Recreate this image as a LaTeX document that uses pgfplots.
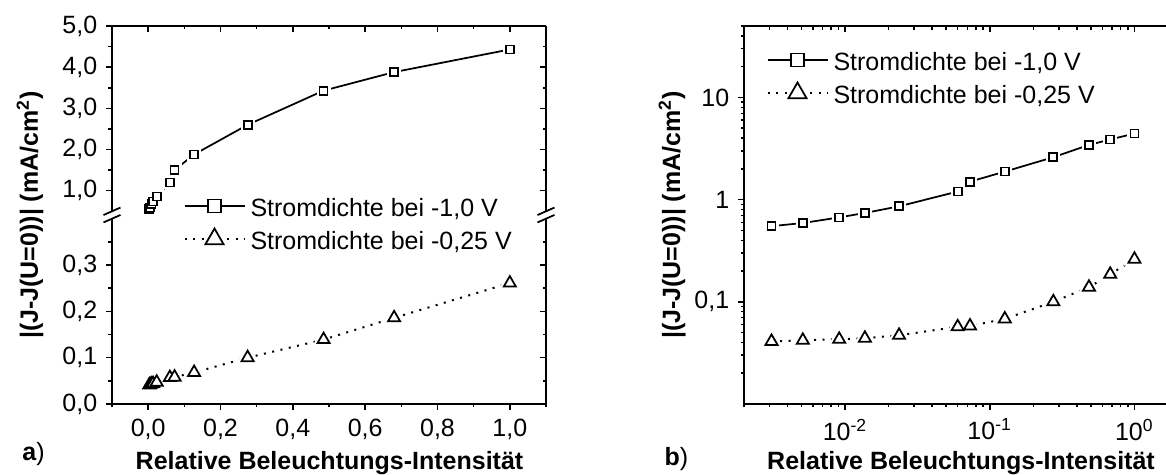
\documentclass[border=0pt]{standalone}
\usepackage{fontspec}
\setmainfont{Liberation Sans}
\usepackage{pgfplots}
\pgfplotsset{compat=1.18}

\pgfplotstableread{
x       sq     tri
0.0031  0.55   0.041
0.0051  0.59   0.042
0.0091  0.67   0.043
0.0137  0.74   0.044
0.0236  0.86   0.047
0.060   1.20   0.057
0.073   1.50   0.058
0.127   1.88   0.068
0.275   2.60   0.100
0.485   3.43   0.139
0.68    3.88   0.186
1.0     4.43   0.261
}\datatable

\pgfplotsset{
  base/.style={
    scale only axis, width=173.6pt, anchor=south west,
    axis line style={line width=0.8pt},
    every tick/.style={black, line width=0.6pt},
    major tick length=2.4pt, minor tick length=1.4pt,
    tick label style={font=\fontsize{10}{12}\selectfont},
    /pgf/number format/use comma,
    /pgf/number format/fixed,
    /pgf/number format/fixed zerofill,
    /pgf/number format/precision=1,
    /pgf/number format/assume math mode=true,
    clip mode=individual,
  },
  sqline/.style={black, line width=0.7pt, mark=none, forget plot},
  sqhalo/.style={only marks, mark=square*, mark size=1.6pt,
    mark options={solid, draw=white, fill=white, line width=2.4pt}, forget plot},
  sq/.style={only marks, mark=square*, mark size=1.6pt,
    mark options={solid, draw=black, fill=white, line width=0.7pt}, forget plot},
  triline/.style={black, line width=0.8pt, dash pattern=on 0.8pt off 2.6pt, mark=none, forget plot},
  trihalo/.style={only marks, mark=triangle*, mark size=2.8pt,
    mark options={solid, draw=white, fill=white, line width=2.4pt}, forget plot},
  tri/.style={only marks, mark=triangle*, mark size=2.8pt,
    mark options={solid, draw=black, fill=white, line width=0.7pt}, forget plot},
  leg/.style={legend cell align=left,
    legend style={draw=none, fill=none, inner sep=0pt, column sep=2.0pt,
      nodes={inner sep=0pt, text height=10.88pt, text depth=2.32pt,
        font=\fontsize{10}{12}\selectfont},
      at={#1}, anchor=north west}},
  legsq/.style={black, line width=0.7pt, mark=square*, mark size=2.6pt,
    mark options={solid, draw=black, fill=white, line width=0.7pt},
    legend image code/.code={
      \draw[##1, mark=none] (0pt,0pt) -- (24pt,0pt);
      \draw[##1, only marks] plot coordinates {(12pt,0pt)};}},
  legtri/.style={black, line width=0.8pt, dash pattern=on 0.8pt off 2.6pt,
    mark=triangle*, mark size=4.2pt,
    mark options={solid, draw=black, fill=white, line width=0.7pt},
    legend image code/.code={
      \draw[##1, mark=none] (0pt,0pt) -- (24pt,0pt);
      \draw[##1, only marks] plot coordinates {(12pt,0pt)};}},
}

\begin{document}
\begin{tikzpicture}
% ---------- panel a, lower segment ----------
\begin{axis}[base, at={(44.8pt,28.4pt)}, height=74.12pt,
  xmin=-0.1, xmax=1.1, ymin=0, ymax=0.4,
  axis x line*=bottom, axis y line*=left, tick align=outside,
  xtick={0,0.2,0.4,0.6,0.8,1.0}, minor xtick={-0.1,0.1,0.3,0.5,0.7,0.9,1.1},
  ytick={0,0.1,0.2,0.3}, minor ytick={0.05,0.15,0.25,0.35},
  leg={(0.1636,1.16)}]
  \addlegendimage{legsq}
  \addlegendentry{Stromdichte bei -1,0 V}
  \addlegendimage{legtri}
  \addlegendentry{Stromdichte bei -0,25 V}
  \addplot[triline] table[x=x, y=tri] {\datatable};
  \addplot[trihalo] table[x=x, y=tri] {\datatable};
  \addplot[tri] table[x=x, y=tri] {\datatable};
\end{axis}
\begin{axis}[base, at={(44.8pt,28.4pt)}, height=74.12pt,
  xmin=-0.1, xmax=1.1, ymin=0, ymax=0.4,
  hide x axis, axis y line*=right, tick align=inside,
  ytick={0,0.1,0.2,0.3}, minor ytick={0.05,0.15,0.25,0.35}, yticklabels={}]
\end{axis}
% ---------- panel a, upper segment ----------
\begin{axis}[base, at={(44.8pt,105.48pt)}, height=74.12pt,
  xmin=-0.1, xmax=1.1, ymin=0.5, ymax=5,
  axis x line*=top, hide y axis, tick align=inside,
  xtick={0,0.2,0.4,0.6,0.8,1.0}, minor xtick={-0.1,0.1,0.3,0.5,0.7,0.9,1.1},
  xticklabels={}]
\end{axis}
\begin{axis}[base, at={(44.8pt,105.48pt)}, height=74.12pt,
  xmin=-0.1, xmax=1.1, ymin=0.5, ymax=5,
  hide x axis, axis y line*=left, tick align=outside,
  ytick={1,2,3,4,5}, minor ytick={1.5,2.5,3.5,4.5}]
  \addplot[sqline] table[x=x, y=sq] {\datatable};
  \addplot[sqhalo] table[x=x, y=sq] {\datatable};
  \addplot[sq] table[x=x, y=sq] {\datatable};
\end{axis}
\begin{axis}[base, at={(44.8pt,105.48pt)}, height=74.12pt,
  xmin=-0.1, xmax=1.1, ymin=0.5, ymax=5,
  hide x axis, axis y line*=right, tick align=inside,
  ytick={1,2,3,4,5}, minor ytick={1.5,2.5,3.5,4.5}, yticklabels={}]
\end{axis}
% break marks
\foreach \bx in {44.8pt,218.4pt}{
  \foreach \by in {105.48pt,102.52pt}{
    \draw[line width=0.7pt] ([xshift=-3.4pt,yshift=-1.5pt]\bx,\by) -- ([xshift=3.4pt,yshift=1.5pt]\bx,\by);
  }
}
% ---------- panel b ----------
\begin{axis}[base, at={(297.6pt,28.4pt)}, height=151.2pt,
  xmode=log, ymode=log, xmin=0.002, xmax=2, ymin=0.01, ymax=50,
  axis x line*=bottom, axis y line*=left, tick align=outside,
  xtick={0.01,0.1,1},
  xticklabels={10\textsuperscript{-2},10\textsuperscript{-1},10\textsuperscript{0}},
  minor xtick={0.002,0.003,0.004,0.005,0.006,0.007,0.008,0.009,
    0.02,0.03,0.04,0.05,0.06,0.07,0.08,0.09,
    0.2,0.3,0.4,0.5,0.6,0.7,0.8,0.9,2},
  ytick={0.1,1,10}, yticklabels={{0,1},1,10},
  minor ytick={0.02,0.03,0.04,0.05,0.06,0.07,0.08,0.09,
    0.2,0.3,0.4,0.5,0.6,0.7,0.8,0.9,2,3,4,5,6,7,8,9,20,30,40,50},
  leg={(0.0507,0.955)}]
  \addplot[sqline] table[x=x, y=sq] {\datatable};
  \addplot[sqhalo] table[x=x, y=sq] {\datatable};
  \addplot[sq] table[x=x, y=sq] {\datatable};
  \addplot[triline] table[x=x, y=tri] {\datatable};
  \addplot[trihalo] table[x=x, y=tri] {\datatable};
  \addplot[tri] table[x=x, y=tri] {\datatable};
  \addlegendimage{legsq}
  \addlegendentry{Stromdichte bei -1,0 V}
  \addlegendimage{legtri}
  \addlegendentry{Stromdichte bei -0,25 V}
\end{axis}
\begin{axis}[base, at={(297.6pt,28.4pt)}, height=151.2pt,
  xmode=log, ymode=log, xmin=0.002, xmax=2, ymin=0.01, ymax=50,
  axis x line*=top, axis y line*=right, tick align=inside,
  xtick={0.01,0.1,1}, xticklabels={},
  minor xtick={0.002,0.003,0.004,0.005,0.006,0.007,0.008,0.009,
    0.02,0.03,0.04,0.05,0.06,0.07,0.08,0.09,
    0.2,0.3,0.4,0.5,0.6,0.7,0.8,0.9,2},
  ytick={0.1,1,10}, yticklabels={},
  minor ytick={0.02,0.03,0.04,0.05,0.06,0.07,0.08,0.09,
    0.2,0.3,0.4,0.5,0.6,0.7,0.8,0.9,2,3,4,5,6,7,8,9,20,30,40,50}]
\end{axis}
% ---------- labels ----------
\node[rotate=90, anchor=base, font=\bfseries\fontsize{10}{12}\selectfont] at (15.2pt,104pt) {|(J-J(U=0))| (mA/cm\textsuperscript{2})};
\node[rotate=90, anchor=base, font=\bfseries\fontsize{10}{12}\selectfont] at (272pt,104pt) {|(J-J(U=0))| (mA/cm\textsuperscript{2})};
\node[anchor=base, font=\bfseries\fontsize{10}{12}\selectfont, inner sep=0pt] at (131.8pt,2.2pt) {Relative Beleuchtungs-Intensität};
\node[anchor=base, font=\bfseries\fontsize{10}{12}\selectfont, inner sep=0pt] at (384.4pt,2.2pt) {Relative Beleuchtungs-Intensität};
\node[anchor=base west, font=\fontsize{10}{12}\selectfont, inner sep=0pt] at (8.8pt,5.6pt) {{\bfseries a})};
\node[anchor=base west, font=\fontsize{10}{12}\selectfont, inner sep=0pt] at (265.6pt,3.6pt) {{\bfseries b})};
\pgfresetboundingbox
\path[use as bounding box] (0,0) rectangle (466.4pt,190pt);
\end{tikzpicture}
\end{document}
